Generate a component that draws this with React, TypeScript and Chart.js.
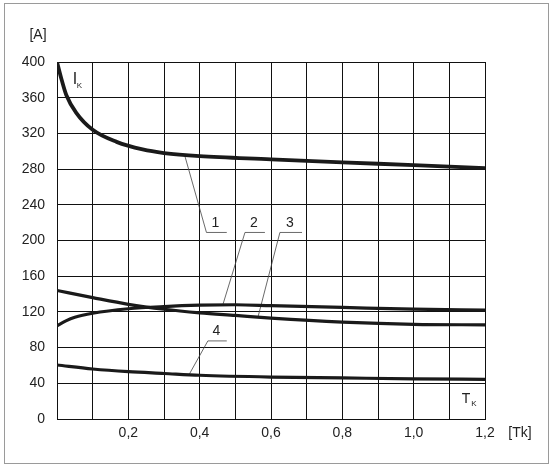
import React, { useEffect, useRef } from 'react';
import { Chart, registerables } from 'chart.js';

Chart.register(...registerables);

// Curve 1
const x1 = [0, 0.013, 0.026, 0.054, 0.1, 0.167, 0.24, 0.3, 0.4, 0.6, 0.8, 1.0, 1.2];
const y1 = [400, 380, 363, 343, 324, 310.5, 302, 298, 294.5, 291, 287.5, 284.5, 281];
// Curve 2
const x2 = [0, 0.025, 0.05, 0.1, 0.2, 0.3, 0.4, 0.5, 0.6, 0.8, 1.0, 1.2];
const y2 = [104.5, 110, 114, 118.5, 123.5, 126, 127.5, 128, 127, 125, 123, 122];
// Curve 3
const x3 = [0, 0.1, 0.2, 0.3, 0.4, 0.5, 0.6, 0.8, 1.0, 1.2];
const y3 = [144, 136, 128.5, 123, 119, 116, 113, 108.5, 106, 105.5];
// Curve 4
const x4 = [0, 0.1, 0.2, 0.3, 0.4, 0.6, 0.8, 1.0, 1.2];
const y4 = [60.5, 56, 53, 51, 49, 47, 46, 45, 44.5];

// Leader lines (callouts) in data units
const leaderX1 = [0.358, 0.419, 0.476];
const leaderY1 = [295.5, 209, 209];
const leaderX2 = [0.465, 0.527, 0.583];
const leaderY2 = [128, 209, 209];
const leaderX3 = [0.563, 0.625, 0.687];
const leaderY3 = [113.5, 209, 209];
const leaderX4 = [0.370, 0.423, 0.476];
const leaderY4 = [49.5, 87.5, 87.5];

const calloutLabels = ['1', '2', '3', '4'];
const calloutX = [0.444, 0.552, 0.653, 0.447];
const calloutY = [219, 220, 220, 98];

const xTickLabels = ['', '', '0,2', '', '0,4', '', '0,6', '', '0,8', '', '1,0', '', '1,2'];
const yUnit = '[A]';
const xUnit = '[Tk]';

const pts = (xs: number[], ys: number[]) => xs.map((x, i) => ({ x, y: ys[i] }));

const FONT = '"Liberation Sans", Arial, sans-serif';

const decorPlugin = {
  id: 'decor',
  beforeDraw(chart: any) {
    const { ctx, width, height } = chart;
    ctx.save();
    ctx.fillStyle = '#ffffff';
    ctx.fillRect(0, 0, width, height);
    ctx.strokeStyle = '#9a9a9a';
    ctx.lineWidth = 1;
    ctx.strokeRect(4.5, 3.5, 544, 460);
    ctx.restore();
  },
  afterDraw(chart: any) {
    const { ctx, chartArea: ca } = chart;
    const xs = chart.scales.x;
    const ys = chart.scales.y;
    ctx.save();
    ctx.fillStyle = '#222';
    ctx.textAlign = 'center';
    ctx.textBaseline = 'middle';
    ctx.font = `14px ${FONT}`;
    ctx.fillText(yUnit, ca.left - 19, ca.top - 27);
    ctx.fillText(xUnit, ca.right + 35, ca.bottom + 14);
    calloutLabels.forEach((t, i) => {
      ctx.fillText(t, xs.getPixelForValue(calloutX[i]), ys.getPixelForValue(calloutY[i]));
    });
    // I_K
    ctx.font = `16px ${FONT}`;
    ctx.fillText('I', ca.left + 18, ca.top + 18);
    ctx.font = `8px ${FONT}`;
    ctx.fillText('K', ca.left + 22.5, ca.top + 24);
    // T_K
    ctx.font = `14px ${FONT}`;
    ctx.fillText('T', ca.right - 19, ca.bottom - 20);
    ctx.font = `8px ${FONT}`;
    ctx.fillText('K', ca.right - 11, ca.bottom - 15);
    ctx.restore();
  },
};

export default function App() {
  const ref = useRef<HTMLCanvasElement | null>(null);
  useEffect(() => {
    if (!ref.current) return;
    const curve = (xs: number[], ys: number[], w: number) => ({
      data: pts(xs, ys),
      borderColor: '#1a1a1a',
      borderWidth: w,
      pointRadius: 0,
      tension: 0.4,
      cubicInterpolationMode: 'monotone' as const,
      fill: false,
    });
    const leader = (xs: number[], ys: number[]) => ({
      data: pts(xs, ys),
      borderColor: '#444',
      borderWidth: 0.8,
      pointRadius: 0,
      tension: 0,
      fill: false,
    });
    const chart = new Chart(ref.current, {
      type: 'line',
      data: {
        datasets: [
          curve(x1, y1, 3.8),
          curve(x2, y2, 3.2),
          curve(x3, y3, 3.2),
          curve(x4, y4, 3.2),
          leader(leaderX1, leaderY1),
          leader(leaderX2, leaderY2),
          leader(leaderX3, leaderY3),
          leader(leaderX4, leaderY4),
        ] as any,
      },
      options: {
        animation: false,
        responsive: false,
        devicePixelRatio: 1,
        layout: { padding: { left: 0, top: 62, right: 68, bottom: 18 } },
        plugins: { legend: { display: false }, tooltip: { enabled: false } },
        scales: {
          x: {
            type: 'linear',
            min: 0,
            max: 1.2,
            afterFit: (s: any) => { s.height = 30; },
            ticks: {
              stepSize: 0.1,
              autoSkip: false,
              maxRotation: 0,
              padding: 6,
              color: '#222',
              font: { family: FONT, size: 14 },
              callback: (_v: any, i: number) => xTickLabels[i],
            },
            grid: { color: '#111', lineWidth: 1, drawTicks: false },
            border: { color: '#111', width: 1 },
          },
          y: {
            type: 'linear',
            min: 0,
            max: 400,
            afterFit: (s: any) => { s.width = 57; },
            ticks: {
              stepSize: 40,
              padding: 12,
              color: '#222',
              font: { family: FONT, size: 14 },
            },
            grid: { color: '#111', lineWidth: 1, drawTicks: false },
            border: { color: '#111', width: 1 },
          },
        },
      },
      plugins: [decorPlugin],
    });
    return () => chart.destroy();
  }, []);
  return (
    <div style={{ position: 'fixed', left: 0, top: 0, width: 553, height: 467, background: '#fff' }}>
      <canvas ref={ref} width={553} height={467} style={{ width: 553, height: 467 }} />
    </div>
  );
}
